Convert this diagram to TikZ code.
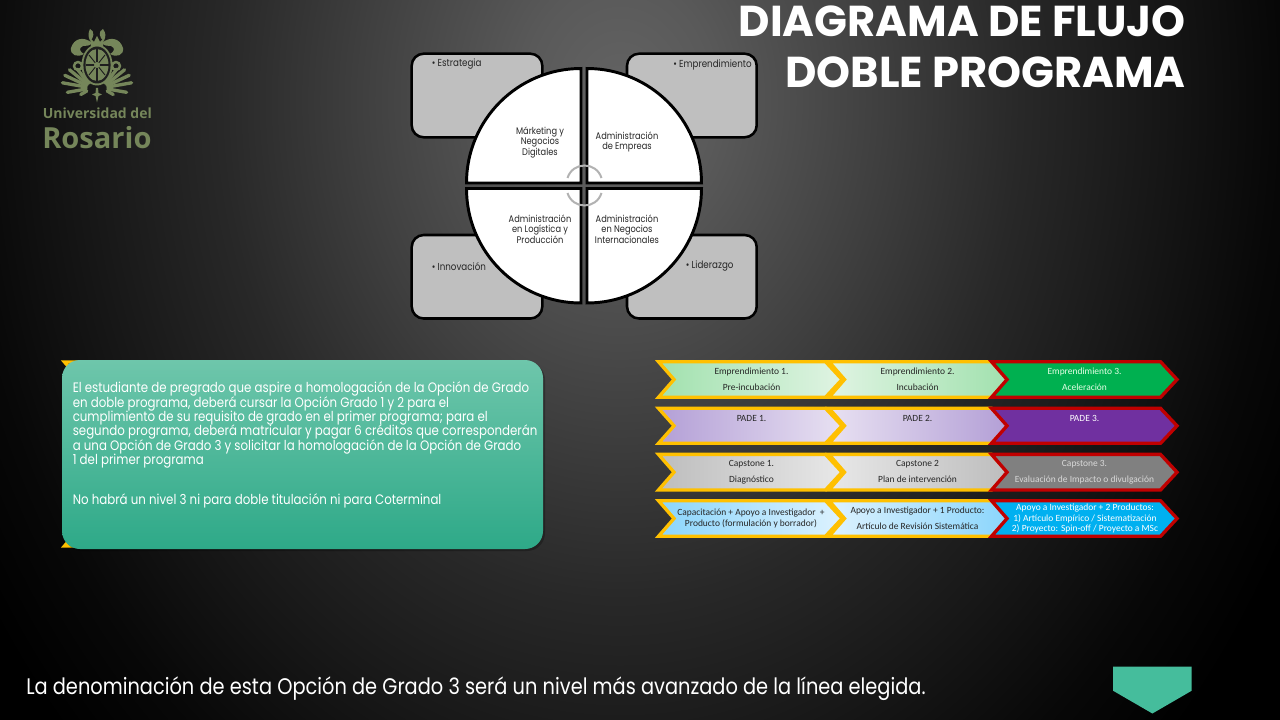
\documentclass[tikz,border=0pt]{standalone}
\usepackage{fontspec}
\usetikzlibrary{calc}
\setmainfont{Poppins}
\newfontfamily\twfont[FakeStretch=0.86]{Poppins}
\newfontfamily\calfont{Carlito}
\newfontfamily\logofont{Open Sans}
\definecolor{rosario}{HTML}{75865A}
\definecolor{ylw}{HTML}{FFC000}
\definecolor{redb}{HTML}{C00000}
\definecolor{teal}{HTML}{45BD9C}
\definecolor{cardgray}{HTML}{BFBFBF}
\pgfdeclareradialshading{bgshade}{\pgfpointorigin}{%
 rgb(0bp)=(.39,.39,.39);
 rgb(3bp)=(.35,.35,.35);
 rgb(8bp)=(.25,.25,.25);
 rgb(12.5bp)=(.157,.157,.157);
 rgb(17bp)=(.086,.086,.086);
 rgb(20.5bp)=(.03,.03,.03);
 rgb(23.5bp)=(0,0,0);
 rgb(50bp)=(0,0,0)}
\tikzset{
 every node/.append style={execute at begin node={\lineskiplimit=-30pt\relax}},
 card/.style={draw=black,line width=1.9pt,fill=cardgray,rounded corners=9pt},
 quad/.style={draw=black,line width=2.2pt,fill=white,line join=miter},
 ringarc/.style={draw=black!30,line width=1.5pt},
 qtext/.style={font=\twfont\fontsize{7.2}{7.9}\selectfont,text=black!85,align=center,inner sep=0pt},
 btext/.style={font=\twfont\fontsize{7.6}{8}\selectfont,text=black!85,inner sep=0pt,anchor=west},
 chevtext/.style={font=\calfont\fontsize{7.1}{8.2}\selectfont,text=#1,inner sep=0pt,align=center},
 chevtext/.default={black!85},
 logotext/.style={font=\logofont\bfseries,text=rosario,inner sep=0pt,anchor=west},
 crest/.style={fill=rosario,draw=none},
 petal/.style={draw=rosario,line width=2.5pt,line cap=round},
}
% #1 left, #2 shoulder, #3 top, #4 bottom, #5 style
\newcommand{\chevron}[5]{%
 \path[line width=2.5pt,miter limit=10,#5] (#1,#3) -- (#2,#3) -- ({#2+16.5},{(#3+#4)/2}) -- (#2,#4) -- (#1,#4) -- ({#1+15.5},{(#3+#4)/2}) -- cycle;}
\newcommand{\chevrow}[5]{% top,bottom,c1left,c1right,c3fill
 \chevron{658.5}{825.5}{#1}{#2}{draw=ylw,left color=#3,right color=#4}
 \chevron{829}{991.5}{#1}{#2}{draw=ylw,left color=#4,right color=#3}
 \chevron{991.5}{1160.5}{#1}{#2}{draw=redb,fill=#5}}
\definecolor{c1l}{HTML}{A1E1AE}\definecolor{c1r}{HTML}{E0F4E3}\definecolor{c1f}{HTML}{00B050}
\definecolor{c2l}{HTML}{B39FD6}\definecolor{c2r}{HTML}{E8E1F2}\definecolor{c2f}{HTML}{7030A0}
\definecolor{c3l}{HTML}{BDBDBD}\definecolor{c3r}{HTML}{E8E8E8}\definecolor{c3f}{HTML}{808080}
\definecolor{c4l}{HTML}{8AD5FC}\definecolor{c4r}{HTML}{DDF2FE}\definecolor{c4f}{HTML}{00B0F0}
\definecolor{boxtop}{HTML}{6EC6AB}\definecolor{boxbot}{HTML}{2EA988}
\begin{document}
\begin{tikzpicture}[x=.75pt,y=-.75pt]
\useasboundingbox (0,0) rectangle (1280,720);
\fill[black] (0,0) rectangle (1280,720);
\begin{scope}
\clip (0,0) rectangle (1280,720);
\shade[shading=bgshade] (620,100) ellipse (800 and 1000);
\end{scope}

% logo crest
\begin{scope}
\fill[crest] (97,102.5) -- (95.5,96) -- (92,94.5) -- (95.5,93) -- (96,88) -- (98,88) -- (98.5,93) -- (102,94.5) -- (98.5,96) -- cycle;
\foreach \a/\L in {150/13,170/25,190/30,205/30,219/29,232/24,245/20}{
  \draw[petal] ($(92,88)+(\a:6)$) -- ($(92,88)+(\a:\L)$);
  \draw[petal] ($(102,88)+(180-\a:6)$) -- ($(102,88)+(180-\a:\L)$);
}
% scrolls
\fill[crest] (92,43) .. controls (84,36) and (74,38) .. (71,48) .. controls (70,55) and (77,58) .. (84,54) .. controls (80,52) and (78,48) .. (83,46) .. controls (86,46) and (90,46) .. cycle;
\fill[crest] (102,43) .. controls (110,36) and (120,38) .. (123,48) .. controls (124,55) and (117,58) .. (110,54) .. controls (114,52) and (116,48) .. (111,46) .. controls (108,46) and (104,46) .. cycle;
\fill[crest] (90,29) .. controls (95,31) and (94,38) .. (90,41) .. controls (88,36) and (88,33) .. cycle;
\fill[crest] (103,29) .. controls (98,31) and (99,38) .. (104,41) .. controls (106,36) and (106,33) .. cycle;
\fill[crest] (91,46) -- (90,38) -- (94,42) -- (97,36) -- (100,42) -- (104,38) -- (103,46) -- cycle;
\draw[rosario,line width=1.8pt] (78,66) circle (4);
\draw[rosario,line width=1.8pt] (116,66) circle (4);
\fill[crest] (97,65) ellipse (15.5 and 20.5);
\fill[black!88] (97,65) ellipse (13.6 and 18.5);
\fill[crest] (97,65) ellipse (11.5 and 16);
\draw[black!88,line width=1.1pt] (97,49) -- (97,81) (85.5,65) -- (108.5,65);
\draw[black!88,line width=.7pt] (89,55) -- (105,75) (105,55) -- (89,75);
\fill[rosario] (97,65) circle (3);
\end{scope}
\node[logotext,font=\logofont\bfseries\fontsize{10.5}{12}\selectfont] (logoA) at (42.5,113.5) {Universidad del};
\node[logotext,font=\logofont\bfseries\fontsize{21.8}{22}\selectfont] (logoB) at (42,137.5) {Rosario};

% title
\node[font=\bfseries\fontsize{32.4}{32.4}\selectfont,text=white,inner sep=0pt,anchor=east] (titleA) at (1186,21) {DIAGRAMA DE FLUJO};
\node[font=\bfseries\fontsize{32.4}{32.4}\selectfont,text=white,inner sep=0pt,anchor=east] (titleB) at (1186,72) {DOBLE PROGRAMA};

% cards
\path[card] (411.7,53.7) rectangle (542.3,137.3);
\path[card] (627,53.7) rectangle (756.7,137.3);
\path[card] (411.7,235) rectangle (542.3,318.5);
\path[card] (627,235) rectangle (756.7,318.5);
\node[btext] (cardA) at (431.5,64.5) {• Estrategia};
\node[btext] (cardB) at (673,64.5) {• Emprendimiento};
\node[btext] (cardC) at (431.5,266.5) {• Innovación};
\node[btext] (cardD) at (685.5,266.5) {• Liderazgo};

% quadrants
\path[quad] (581,183) -- (581,68.5) .. controls (517.8,68.5) and (466.5,119.8) .. (466.5,183) -- cycle;
\path[quad] (587,183) -- (587,68.5) .. controls (650.2,68.5) and (701.5,119.8) .. (701.5,183) -- cycle;
\path[quad] (581,188.5) -- (581,303) .. controls (517.8,303) and (466.5,251.7) .. (466.5,188.5) -- cycle;
\path[quad] (587,188.5) -- (587,303) .. controls (650.2,303) and (701.5,251.7) .. (701.5,188.5) -- cycle;
\path[ringarc] (567.5,178) .. controls (570,170) and (577,165.5) .. (584.5,165.5) .. controls (592,165.5) and (599,170) .. (601.5,178);
\path[ringarc] (567.5,193) .. controls (570,201) and (577,205.5) .. (584.5,205.5) .. controls (592,205.5) and (599,201) .. (601.5,193);
\node[qtext] (qA) at (540,142.5) {Márketing y\\Negocios\\Digitales};
\node[qtext] (qB) at (627,142) {Administración\\de Empreas};
\node[qtext] (qC) at (540,229) {Administración\\en Logística y\\Producción};
\node[qtext] (qD) at (627,229) {Administración\\en Negocios\\Internacionales};

% chevron hidden behind text box
\draw[ylw,line width=2.5pt,miter limit=10] (100,362) -- (64.5,362) -- (80,380);
\draw[ylw,line width=2.5pt,miter limit=10] (100,546) -- (64.5,546) -- (80,528);

% text box
\fill[black,opacity=.25,rounded corners=13.5pt] (64,362) rectangle (545,551);
\path[rounded corners=13.5pt,top color=boxtop,bottom color=boxbot] (62,360) rectangle (543,549);
\node[font=\twfont\fontsize{10.3}{10.8}\selectfont,text=white,align=left,inner sep=0pt,anchor=north west] (boxtext) at (72.5,381.5) {El estudiante de pregrado que aspire a homologación de la Opción de Grado\\
en doble programa, deberá cursar la Opción Grado 1 y 2 para el\\
cumplimiento de su requisito de grado en el primer programa; para el\\
segundo programa, deberá matricular y pagar 6 créditos que corresponderán\\
a una Opción de Grado 3 y solicitar la homologación de la Opción de Grado\\
1 del primer programa\\[19.2pt]
No habrá un nivel 3 ni para doble titulación ni para Coterminal};

% chevrons
\chevrow{361.7}{397.3}{c1l}{c1r}{c1f}
\chevrow{408.3}{443.3}{c2l}{c2r}{c2f}
\chevrow{454.4}{490}{c3l}{c3r}{c3f}
\chevrow{500.7}{536.3}{c4l}{c4r}{c4f}

\node[chevtext] (e1a) at (751.5,371.7) {Emprendimiento 1.};
\node[chevtext] (e1b) at (751.5,387) {Pre-incubación};
\node[chevtext] (e2a) at (917.5,371.7) {Emprendimiento 2.};
\node[chevtext] (e2b) at (917.5,387) {Incubación};
\node[chevtext=white!90!green] (e3a) at (1084.5,371.7) {Emprendimiento 3.};
\node[chevtext=white!90!green] (e3b) at (1084.5,387) {Aceleración};
\node[chevtext] (p1) at (751.5,418) {PADE 1.};
\node[chevtext] (p2) at (917.5,418) {PADE 2.};
\node[chevtext=white] (p3) at (1084.5,418) {PADE 3.};
\node[chevtext] (c1a) at (751.5,464) {Capstone 1.};
\node[chevtext] (c1b) at (751.5,479.7) {Diagnóstico};
\node[chevtext] (c2a) at (917.5,464) {Capstone 2};
\node[chevtext] (c2b) at (917.5,479.7) {Plan de intervención};
\node[chevtext=white!85!black] (c3a) at (1084.5,464) {Capstone 3.};
\node[chevtext=white!85!black] (c3b) at (1084.5,479.7) {Evaluación de Impacto o divulgación};
\node[chevtext] (r1a) at (751,512.7) {Capacitación + Apoyo a Investigador~~+};
\node[chevtext] (r1b) at (751,523.7) {Producto (formulación y borrador)};
\node[chevtext] (r2a) at (917.5,510.7) {Apoyo a Investigador + 1 Producto:};
\node[chevtext] (r2b) at (917.5,526) {Artículo de Revisión Sistemática};
\node[chevtext=white] (r3a) at (1085,507.7) {Apoyo a Investigador + 2 Productos:};
\node[chevtext=white] (r3b) at (1085,518.5) {1) Artículo Empírico / Sistematización};
\node[chevtext=white] (r3c) at (1085,529) {2) Proyecto: Spin-off / Proyecto a MSc};

% footer
\node[font=\twfont\fontsize{16.9}{17}\selectfont,text=white,inner sep=0pt,anchor=base west] (footer) at (26,694) {La denominación de esta Opción de Grado 3 será un nivel más avanzado de la línea elegida.};
\fill[teal] (1113,666.7) -- (1191.7,666.7) -- (1191.7,690.7) -- (1152.4,713.5) -- (1113,690.7) -- cycle;
\end{tikzpicture}
\end{document}
